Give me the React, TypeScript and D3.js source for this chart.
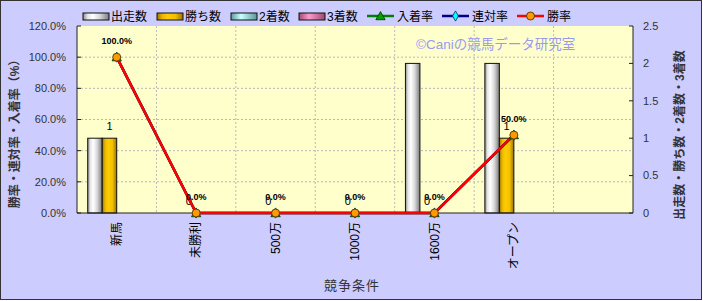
import React from 'react';
import * as d3 from 'd3';

// ---------- data ----------
const categories = ['新馬', '未勝利', '500万', '1000万', '1600万', 'オープン', ''];
const startsCount: (number | null)[] = [1, 0, 0, 0, 2, 2, null];
const winsCount: (number | null)[] = [1, 0, 0, 0, 0, 1, null];
const secondCount: (number | null)[] = [0, 0, 0, 0, 0, 0, null];
const thirdCount: (number | null)[] = [0, 0, 0, 0, 0, 0, null];
const placeRate: (number | null)[] = [100, 0, 0, 0, 0, 50, null]; // 入着率
const quinellaRate: (number | null)[] = [100, 0, 0, 0, 0, 50, null]; // 連対率
const winRate: (number | null)[] = [100, 0, 0, 0, 0, 50, null]; // 勝率
const leftTicks = [0, 20, 40, 60, 80, 100, 120];
const rightTicks = [0, 0.5, 1, 1.5, 2, 2.5];
const barSeriesNames = ['出走数', '勝ち数', '2着数', '3着数'];
const lineSeriesNames = ['入着率', '連対率', '勝率'];

// ---------- layout ----------
const W = 703, H = 301;
const L = 77, R = 633, T = 26, B = 213;
const FONT = "'Liberation Sans', Arial, 'Noto Sans CJK JP', sans-serif";
const legendBarX = [83, 157, 231, 299];
const legendLineX = [367, 442, 517];
const LEG_Y = 16;

const barGrads = ['gWhite', 'gGold', 'gCyan', 'gPink'];
const lineColors = ['#008000', '#000080', '#FF0000'];

export default function App() {
  const idx = d3.range(categories.length);
  const x = d3.scaleBand<number>().domain(idx).range([L, R]).padding(0);
  const bw = x.bandwidth();
  const groupW = 58;
  const sub = d3.scaleBand<number>().domain([0, 1, 2, 3]).range([bw / 2 - groupW / 2, bw / 2 + groupW / 2]).padding(0);
  const yL = d3.scaleLinear().domain([0, 120]).range([B, T]);
  const yR = d3.scaleLinear().domain([0, 2.5]).range([B, T]);
  const cx = (i: number) => (x(i) as number) + bw / 2;

  const barSeries = [startsCount, winsCount, secondCount, thirdCount];
  const lineSeries = [placeRate, quinellaRate, winRate];

  const lineGen = d3.line<number | null>()
    .defined((d) => d != null)
    .x((_, i) => cx(i))
    .y((d) => yL(d as number));

  const tri = d3.symbol(d3.symbolTriangle, 38)() as string;
  const dia = d3.symbol(d3.symbolDiamond, 30)() as string;

  const marker = (k: number, px: number, py: number, key: string) => {
    if (k === 0) return <path key={key} d={tri} transform={`translate(${px},${py + 1})`} fill="#00A000" stroke="#003300" strokeWidth={0.8} />;
    if (k === 1) return <path key={key} d={dia} transform={`translate(${px},${py})`} fill="#00FFFF" stroke="#003366" strokeWidth={0.8} />;
    return <circle key={key} cx={px} cy={py} r={4} fill="#FF9900" stroke="#553300" strokeWidth={0.9} />;
  };

  return (
    <svg width={W} height={H} style={{ position: 'absolute', left: 0, top: 0, fontFamily: FONT }}>
      <defs>
        <linearGradient id="gWhite" x1="0" x2="1" y1="0" y2="0">
          <stop offset="0" stopColor="#8c8c8c" />
          <stop offset="0.18" stopColor="#e6e6e6" />
          <stop offset="0.38" stopColor="#ffffff" />
          <stop offset="0.65" stopColor="#d8d8d8" />
          <stop offset="1" stopColor="#7a7a7a" />
        </linearGradient>
        <linearGradient id="gGold" x1="0" x2="1" y1="0" y2="0">
          <stop offset="0" stopColor="#9c7400" />
          <stop offset="0.2" stopColor="#e8b800" />
          <stop offset="0.4" stopColor="#ffcc00" />
          <stop offset="0.7" stopColor="#f2c200" />
          <stop offset="1" stopColor="#9a7200" />
        </linearGradient>
        <linearGradient id="gCyan" x1="0" x2="1" y1="0" y2="0">
          <stop offset="0" stopColor="#5c9a9a" />
          <stop offset="0.38" stopColor="#ccffff" />
          <stop offset="1" stopColor="#5a9696" />
        </linearGradient>
        <linearGradient id="gPink" x1="0" x2="1" y1="0" y2="0">
          <stop offset="0" stopColor="#a04a72" />
          <stop offset="0.38" stopColor="#ff99cc" />
          <stop offset="1" stopColor="#9a4a70" />
        </linearGradient>
      </defs>

      {/* background */}
      <rect x={0.5} y={0.5} width={701} height={299} fill="#CCCCFF" stroke="#333" strokeWidth={1} />
      {/* plot area */}
      <rect x={L} y={T} width={R - L} height={B - T} fill="#FFFFCC" />

      {/* horizontal gridlines */}
      {leftTicks.filter((t) => t > 0 && t < 120).map((t) => (
        <line key={'h' + t} x1={L} x2={R} y1={yL(t)} y2={yL(t)} stroke="#B8B8B8" strokeWidth={1} strokeDasharray="2,2" />
      ))}
      {/* vertical gridlines */}
      {idx.slice(1).map((i) => (
        <line key={'v' + i} x1={x(i) as number} x2={x(i) as number} y1={T} y2={B} stroke="#B8B8B8" strokeWidth={1} strokeDasharray="2,2" />
      ))}

      {/* watermark */}
      <text x={416} y={49} fontSize={13.5} fill="#9A9AEE" fontFamily={FONT}>©Caniの競馬データ研究室</text>

      {/* bars */}
      {barSeries.map((vals, s) =>
        vals.map((v, i) => {
          if (v == null || v === 0) return null;
          const bx = (x(i) as number) + (sub(s) as number);
          return (
            <rect key={`b${s}-${i}`} x={bx} y={yR(v)} width={sub.bandwidth()} height={B - yR(v)}
              fill={`url(#${barGrads[s]})`} stroke="#111" strokeWidth={1} />
          );
        })
      )}

      {/* axes lines */}
      <line x1={L} x2={L} y1={T} y2={B} stroke="#222" strokeWidth={1} />
      <line x1={R} x2={R} y1={T} y2={B} stroke="#222" strokeWidth={1} />
      <line x1={L} x2={R} y1={B} y2={B} stroke="#222" strokeWidth={1} />
      {leftTicks.map((t) => (
        <line key={'lt' + t} x1={L} x2={L + 4} y1={yL(t)} y2={yL(t)} stroke="#222" />
      ))}
      {rightTicks.map((t) => (
        <line key={'rt' + t} x1={R - 4} x2={R} y1={yR(t)} y2={yR(t)} stroke="#222" />
      ))}

      {/* win-count labels */}
      {winsCount.map((v, i) => {
        if (v == null) return null;
        const bx = (x(i) as number) + (sub(1) as number) + sub.bandwidth() / 2;
        return (
          <text key={'wl' + i} x={bx} y={yR(v) - 8} textAnchor="middle" fontSize={11} fill="#000">{v}</text>
        );
      })}

      {/* lines */}
      {lineSeries.map((vals, k) => (
        <path key={'ln' + k} d={lineGen(vals) as string} fill="none" stroke={lineColors[k]} strokeWidth={2.5} />
      ))}
      {lineSeries.map((vals, k) =>
        vals.map((v, i) => (v == null ? null : marker(k, cx(i), yL(v), `m${k}-${i}`)))
      )}

      {/* win-rate labels */}
      {winRate.map((v, i) => (v == null ? null : (
        <text key={'pl' + i} x={cx(i)} y={yL(v) - 13} textAnchor="middle" fontSize={9} fontWeight="bold" fill="#000">
          {d3.format('.1f')(v)}%
        </text>
      )))}

      {/* left tick labels */}
      {leftTicks.map((t) => (
        <text key={'ll' + t} x={66} y={yL(t)} dy="0.35em" textAnchor="end" fontSize={11} fill="#333">{d3.format('.1f')(t)}%</text>
      ))}
      {/* right tick labels */}
      {rightTicks.map((t) => (
        <text key={'rl' + t} x={643} y={yR(t)} dy="0.35em" textAnchor="start" fontSize={11} fill="#333">{String(t)}</text>
      ))}

      {/* category labels */}
      {categories.map((c, i) => (
        <text key={'c' + i} transform={`translate(${cx(i)},222) rotate(-90)`} dy="0.35em" textAnchor="end" fontSize={12} fill="#000">{c}</text>
      ))}

      {/* axis titles */}
      <text transform="translate(15,131) rotate(-90)" dy="0.35em" textAnchor="middle" fontSize={12} fontWeight="bold" fill="#333">勝率・連対率・入着率（%）</text>
      <text transform="translate(680,135) rotate(-90)" dy="0.35em" textAnchor="middle" fontSize={12} fontWeight="bold" fill="#333">出走数・勝ち数・2着数・3着数</text>
      <text x={352} y={290} textAnchor="middle" fontSize={13} fill="#333" letterSpacing={1}>競争条件</text>

      {/* legend */}
      {barSeriesNames.map((n, s) => (
        <g key={'lb' + s}>
          <rect x={legendBarX[s]} y={LEG_Y - 3} width={26} height={7} fill={`url(#${barGrads[s]})`} stroke="#111" strokeWidth={1} />
          <text x={legendBarX[s] + 28} y={LEG_Y} dy="0.38em" fontSize={12} fill="#000">{n}</text>
        </g>
      ))}
      {lineSeriesNames.map((n, k) => (
        <g key={'lg' + k}>
          <line x1={legendLineX[k]} x2={legendLineX[k] + 27} y1={LEG_Y} y2={LEG_Y} stroke={lineColors[k]} strokeWidth={2.5} />
          {marker(k, legendLineX[k] + 13.5, LEG_Y, 'lm' + k)}
          <text x={legendLineX[k] + 30} y={LEG_Y} dy="0.38em" fontSize={12} fill="#000">{n}</text>
        </g>
      ))}
    </svg>
  );
}
